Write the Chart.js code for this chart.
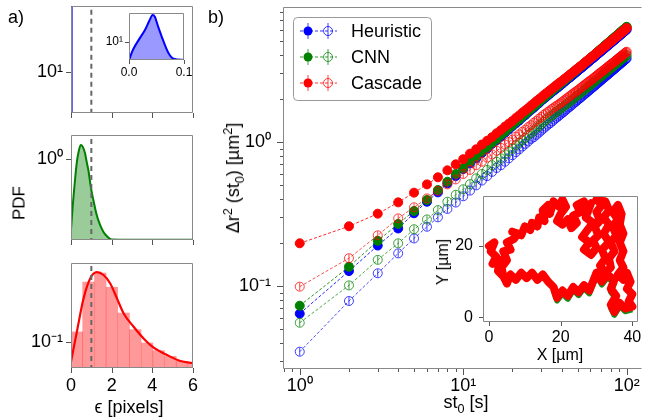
<!DOCTYPE html>
<html>
<head>
<meta charset="utf-8">
<script src="https://cdn.jsdelivr.net/npm/chart.js@4.4.1/dist/chart.umd.min.js"></script>
<style>
body{margin:0;background:#fff;width:647px;height:418px;overflow:hidden;position:relative;font-family:"Liberation Sans",Arial,sans-serif;}
canvas{position:absolute;left:0;top:0;}
.t{position:absolute;font-size:18px;color:#000;white-space:nowrap;line-height:1;transform:translate(-50%,-50%);}
.r{transform:translate(-50%,-50%) rotate(-90deg);}
sub,sup{font-size:70%;line-height:0;}
</style>
</head>
<body>
<canvas id="aTop" width="647" height="418"></canvas>
<canvas id="aInset" width="647" height="418"></canvas>
<canvas id="aMid" width="647" height="418"></canvas>
<canvas id="aBot" width="647" height="418"></canvas>
<canvas id="bMain" width="647" height="418"></canvas>
<canvas id="bInset" width="647" height="418"></canvas>

<div class="t" style="left:16px;top:17px">a)</div>
<div class="t" style="left:216px;top:17px">b)</div>
<div class="t r" style="left:19px;top:203px;font-size:17px">PDF</div>
<div class="t" style="left:129px;top:407px">ϵ [pixels]</div>
<div class="t r" style="left:233px;top:178px">Δr<sup>2</sup> (st<sub>0</sub>) [µm<sup>2</sup>]</div>
<div class="t" style="left:466px;top:402px">st<sub>0</sub> [s]</div>
<div class="t" style="left:560px;top:355px;font-size:16px">X [µm]</div>
<div class="t r" style="left:443px;top:262px;font-size:16px">Y [µm]</div>

<script>
// ---- panel a: localisation error PDFs ----
let spikeX=[0.03,0.03];
let spikeY=[1,1000];
let dashX=[1,1];
let dashY=[0.001,1000];

let insetEps=[0,0.007,0.02,0.029,0.037,0.043,0.047,0.053,0.063,0.072,0.081,0.1];
let insetPdf=[5.0,7.36,11.7,15.8,22.6,28.2,26.3,18.0,10.1,6.49,5.27,5.02];

let midEps=[0,0.082,0.197,0.28,0.36,0.476,0.575,0.69,0.77,0.854,0.985,1.10,1.264,1.43,1.59,1.757,2.0,3,4,5,6];
let midPdf=[0.195,0.334,0.617,0.906,1.14,1.38,1.33,1.14,0.94,0.776,0.509,0.389,0.275,0.219,0.1875,0.170,0.157,0.156,0.156,0.156,0.156];

let botEps=[0,0.29,0.62,0.95,1.27,1.6,1.93,2.26,2.59,3.08,3.57,4.07,4.72,5.38,6];
let botPdf=[0.0723,0.1186,0.205,0.285,0.315,0.301,0.262,0.205,0.160,0.1285,0.106,0.091,0.0807,0.0731,0.0705];
let histCenters=[0.29,0.86,1.44,2.01,2.59,3.16,3.74,4.31,4.89,5.46,6.04];
let histPdf=[0.118,0.268,0.311,0.246,0.161,0.1225,0.0984,0.0867,0.079,0.0728,0.0697];

// ---- panel b: MSD ----
let st0=[1,2,3,4,5,6,7,8,9,10,11,12,13,14,15,16,17,18,19,20,21,22,23,24,25,26,27,28,29,30,31,32,33,34,35,36,37,38,39,40,41,42,43,44,45,46,47,48,49,50,51,52,53,54,55,56,57,58,59,60,61,62,63,64,65,66,67,68,69,70,71,72,73,74,75,76,77,78,79,80,81,82,83,84,85,86,87,88,89,90,91,92,93,94,95,96,97,98,99,100];

let heurFilled=[0.0643,0.127,0.191,0.251,0.32,0.385,0.447,0.517,0.58,0.65,0.71,0.77,0.84,0.90,0.97,1.03,1.09,1.16,1.22,1.29,1.35,1.41,1.48,1.54,1.61,1.67,1.73,1.80,1.86,1.93,1.99,2.05,2.11,2.17,2.23,2.29,2.34,2.40,2.46,2.52,2.58,2.64,2.70,2.76,2.81,2.87,2.93,2.99,3.05,3.11,3.17,3.23,3.28,3.34,3.40,3.46,3.52,3.58,3.64,3.70,3.76,3.81,3.87,3.93,3.99,4.05,4.11,4.17,4.23,4.28,4.34,4.40,4.46,4.52,4.58,4.64,4.70,4.76,4.81,4.87,4.93,4.99,5.05,5.11,5.17,5.23,5.28,5.34,5.40,5.46,5.52,5.58,5.64,5.70,5.75,5.81,5.87,5.93,5.99,6.05];
let heurHollow=[0.035,0.0787,0.1226,0.1686,0.214,0.258,0.300,0.343,0.38,0.42,0.46,0.50,0.54,0.58,0.62,0.66,0.69,0.73,0.77,0.81,0.85,0.89,0.93,0.97,1.01,1.05,1.08,1.12,1.16,1.20,1.24,1.28,1.32,1.35,1.39,1.43,1.47,1.50,1.54,1.58,1.61,1.65,1.69,1.73,1.76,1.80,1.84,1.88,1.91,1.95,1.99,2.02,2.06,2.10,2.14,2.17,2.21,2.25,2.28,2.32,2.36,2.40,2.43,2.47,2.51,2.54,2.58,2.62,2.66,2.69,2.73,2.77,2.81,2.84,2.88,2.92,2.95,2.99,3.03,3.07,3.10,3.14,3.18,3.21,3.25,3.29,3.33,3.36,3.40,3.44,3.48,3.51,3.55,3.59,3.62,3.66,3.70,3.74,3.77,3.81];
let cnnFilled=[0.073,0.136,0.206,0.270,0.332,0.396,0.464,0.530,0.60,0.66,0.73,0.79,0.86,0.92,0.99,1.05,1.12,1.18,1.25,1.31,1.38,1.44,1.51,1.57,1.64,1.70,1.77,1.83,1.90,1.96,2.03,2.09,2.15,2.21,2.28,2.34,2.40,2.46,2.52,2.59,2.65,2.71,2.77,2.83,2.90,2.96,3.02,3.08,3.14,3.21,3.27,3.33,3.39,3.45,3.52,3.58,3.64,3.70,3.76,3.83,3.89,3.95,4.01,4.07,4.14,4.20,4.26,4.32,4.38,4.45,4.51,4.57,4.63,4.69,4.76,4.82,4.88,4.94,5.00,5.07,5.13,5.19,5.25,5.31,5.38,5.44,5.50,5.56,5.62,5.69,5.75,5.81,5.87,5.93,6.00,6.06,6.12,6.18,6.24,6.31];
let cnnHollow=[0.0556,0.101,0.152,0.198,0.248,0.290,0.337,0.385,0.43,0.47,0.51,0.56,0.60,0.64,0.69,0.73,0.77,0.82,0.86,0.90,0.95,0.99,1.03,1.07,1.12,1.16,1.20,1.25,1.29,1.33,1.38,1.42,1.46,1.50,1.53,1.57,1.61,1.65,1.69,1.73,1.76,1.80,1.84,1.88,1.92,1.95,1.99,2.03,2.07,2.11,2.15,2.18,2.22,2.26,2.30,2.34,2.38,2.41,2.45,2.49,2.53,2.57,2.60,2.64,2.68,2.72,2.76,2.80,2.83,2.87,2.91,2.95,2.99,3.02,3.06,3.10,3.14,3.18,3.22,3.25,3.29,3.33,3.37,3.41,3.44,3.48,3.52,3.56,3.60,3.64,3.67,3.71,3.75,3.79,3.83,3.86,3.90,3.94,3.98,4.02];
let cascadeFilled=[0.198,0.26,0.318,0.381,0.445,0.508,0.569,0.636,0.70,0.76,0.83,0.89,0.96,1.02,1.08,1.15,1.21,1.28,1.34,1.40,1.47,1.53,1.60,1.66,1.72,1.79,1.85,1.92,1.98,2.04,2.11,2.17,2.23,2.29,2.35,2.41,2.47,2.53,2.59,2.64,2.70,2.76,2.82,2.88,2.94,3.00,3.06,3.12,3.18,3.23,3.29,3.35,3.41,3.47,3.53,3.59,3.65,3.71,3.77,3.82,3.88,3.94,4.00,4.06,4.12,4.18,4.24,4.30,4.36,4.41,4.47,4.53,4.59,4.65,4.71,4.77,4.83,4.89,4.95,5.00,5.06,5.12,5.18,5.24,5.30,5.36,5.42,5.48,5.54,5.59,5.65,5.71,5.77,5.83,5.89,5.95,6.01,6.07,6.13,6.18];
let cascadeHollow=[0.099,0.156,0.225,0.295,0.352,0.406,0.458,0.508,0.55,0.60,0.64,0.69,0.73,0.78,0.82,0.87,0.91,0.96,1.00,1.04,1.09,1.13,1.18,1.22,1.27,1.31,1.36,1.40,1.45,1.49,1.54,1.58,1.62,1.66,1.70,1.74,1.78,1.81,1.85,1.89,1.93,1.97,2.01,2.05,2.09,2.13,2.17,2.21,2.24,2.28,2.32,2.36,2.40,2.44,2.48,2.52,2.56,2.60,2.64,2.67,2.71,2.75,2.79,2.83,2.87,2.91,2.95,2.99,3.03,3.07,3.10,3.14,3.18,3.22,3.26,3.30,3.34,3.38,3.42,3.46,3.50,3.53,3.57,3.61,3.65,3.69,3.73,3.77,3.81,3.85,3.89,3.93,3.96,4.00,4.04,4.08,4.12,4.16,4.20,4.24];

// trajectory in the inset (um)
let trajX=[0,1.5,0.5,2,1,3,2.5,4,3.5,5,4,6,5,7,8,6.5,9,10,11.5,12,13.5,14,15.5,15,16.5,17,18,19.5,20.5,21.5,20,19,20.5,22,23,24.5,23.5,25.5,24.5,26.5,27.5,28.5,27,29,27.5,26,28,26.5,
  28.5,30,29,30.5,29.5,31,30,31.5,30,32.5,33.5,32,33.5,32,33.5,31.5,32.5,31,32.5,34,33.5,35,34,35.5,34.5,36,34.5,36,37,36.5,37.5,36.5,37.5,36.5,37.5,36,37.5,
  38.5,39.5,38.5,40,39,40,38,36.5,35,34,35.5,34,35,33,31.5,30,29,28,26.5,25,23.5,22,20.5,19,18,16.5,15,13.5,12,10.5,9,7.5,6,5,3.5];
let trajY=[20,21,18.5,17,15,16,13,11.5,14,16,18.5,19,21,22,23.5,24,23,25.5,24.5,26.5,25.5,28,27,30,31.5,29,32.5,31,33,31,29,27,26,27.5,25,26.5,28.5,29.5,31.5,32.5,30.5,32,28,26.5,24.5,22.5,21,19,
  17.5,19.5,21.5,23,25.5,27,29.5,31.5,33,32.5,30,28,26,23.5,21,19,16.5,14.5,12.5,14,16.5,18.5,21,23,25.5,27.5,29.5,31.5,29,26,23.5,21,18.5,16,14,12,10.5,
  12.5,10,8,6.5,4.5,3,2.5,4,1.5,3.5,6,8,10.5,12,10,12.5,10,7.5,9,7,8.5,6,7.5,5.5,8.5,10,12,10.5,12.5,11,12.5,10.5,12,9.5,12.5];
let cnnTrajX=[40,38,36.5,35,34,35.5,34,35,33,31.5,30,29,28,26.5,25,23.5,22,20.5,19,18];
let cnnTrajY=[2.2,1.7,3.2,0.7,2.7,5.2,7.2,9.7,11.2,9.2,11.7,9.2,6.7,8.2,6.2,7.7,5.2,6.7,4.7,7.7];

let decadeLabels={0.1:'10⁻¹',1:'10⁰',10:'10¹',100:'10²'};

Chart.defaults.font.family='"Liberation Sans", Arial, sans-serif';
Chart.defaults.color='#000';
Chart.defaults.animation=false;
Chart.defaults.responsive=false;
Chart.defaults.events=[];
Chart.defaults.plugins.legend.display=false;
Chart.defaults.plugins.tooltip.enabled=false;

function pts(xs,ys){ return xs.map((x,i)=>({x:x,y:ys[i]})); }

// plot box in page pixels; yw/xh = room kept for tick labels
function box(l,t,r,b,yw,xh){
  return {left:l-yw,top:t,right:647-r,bottom:418-b-xh};
}

function axis(type,min,max,tickVals,labels,pad,size,show,room){
  return {
    type:type, min:min, max:max, bounds:'data',
    afterBuildTicks:s=>{ s.ticks=tickVals.map(v=>({value:v})); },
    afterFit:s=>{
      if(s.isHorizontal()) s.height=room; else s.width=room;
      s.paddingLeft=s.paddingRight=s.paddingTop=s.paddingBottom=0;
    },
    grid:{display:false,drawTicks:false},
    border:{display:false},
    ticks:{display:show,autoSkip:false,maxRotation:0,minRotation:0,padding:pad,
      font:{size:size},color:'#000',callback:v=>(labels[v]!==undefined?labels[v]:'')}
  };
}

function isDecade(v){ let l=Math.log10(v); return Math.abs(l-Math.round(l))<1e-6; }

let deco={
  id:'deco',
  beforeDatasetsDraw(chart,args,o){
    if(!o.bg) return;
    let a=chart.chartArea, ctx=chart.ctx;
    ctx.save(); ctx.fillStyle=o.bg; ctx.fillRect(a.left,a.top,a.right-a.left,a.bottom-a.top); ctx.restore();
  },
  afterDatasetDraw(chart,args,o){
    if(!o.errbars) return;
    let ctx=chart.ctx, ds=chart.data.datasets[args.index];
    ctx.save(); ctx.strokeStyle=ds.pointBorderColor; ctx.lineWidth=1;
    args.meta.data.forEach(p=>{
      ctx.beginPath(); ctx.moveTo(p.x,p.y-4); ctx.lineTo(p.x,p.y+4); ctx.stroke();
    });
    ctx.restore();
  },
  afterDraw(chart,args,o){
    let ctx=chart.ctx, a=chart.chartArea;
    let L=a.left+0.5, T=a.top+0.5, R=a.right-0.5, B=a.bottom-0.5;
    ctx.save();
    ctx.lineWidth=1; ctx.strokeStyle=o.frame||'#888';
    ctx.beginPath();
    if(o.openRight){ ctx.moveTo(a.right,T); ctx.lineTo(L,T); ctx.lineTo(L,B); ctx.lineTo(a.right,B); }
    else ctx.rect(L,T,R-L,B-T);
    ctx.stroke();
    ctx.strokeStyle=o.tick||'#555';
    ['x','y'].forEach(id=>{
      let s=chart.scales[id];
      s.ticks.forEach(t=>{
        let len=(s.type==='logarithmic'&&!isDecade(t.value))?o.len/2:o.len;
        let p=Math.round(s.getPixelForValue(t.value))+0.5;
        ctx.beginPath();
        if(id==='x'){ ctx.moveTo(p,a.bottom); ctx.lineTo(p,a.bottom+len); }
        else { ctx.moveTo(a.left,p); ctx.lineTo(a.left-len,p); }
        ctx.stroke();
      });
    });
    if(o.legend) drawLegend(chart);
    ctx.restore();
  }
};
Chart.register(deco);

function drawLegend(chart){
  let ctx=chart.ctx;
  ctx.save();
  ctx.beginPath(); ctx.roundRect(293.5,17.5,138,83,4);
  ctx.fillStyle='rgba(255,255,255,0.85)'; ctx.fill();
  ctx.strokeStyle='#999'; ctx.lineWidth=1; ctx.stroke();
  let rows=[['Heuristic','0,0,255'],['CNN','0,128,0'],['Cascade','255,0,0']];
  rows.forEach((r,i)=>{
    let y=31+26*i, c=r[1];
    ctx.setLineDash([3,2]); ctx.strokeStyle='rgba('+c+',0.8)'; ctx.lineWidth=1;
    ctx.beginPath(); ctx.moveTo(300,y); ctx.lineTo(337,y); ctx.stroke();
    ctx.setLineDash([]);
    ctx.strokeStyle='rgba('+c+',0.75)';
    [308,328].forEach(x=>{ ctx.beginPath(); ctx.moveTo(x,y-8); ctx.lineTo(x,y+8); ctx.stroke(); });
    ctx.fillStyle='rgb('+c+')';
    ctx.beginPath(); ctx.arc(308,y,4.5,0,Math.PI*2); ctx.fill();
    ctx.beginPath(); ctx.arc(328,y,4.5,0,Math.PI*2); ctx.stroke();
    ctx.fillStyle='#000'; ctx.font='18px "Liberation Sans", Arial, sans-serif';
    ctx.textBaseline='middle'; ctx.fillText(r[0],351,y+1);
  });
  ctx.restore();
}

let dashed={type:'line',data:pts(dashX,dashY),borderColor:'#666',borderWidth:2,borderDash:[5,4],pointRadius:0};
let aTicks=[0,2,4,6];
let aLabels={0:'0',2:'2',4:'4',6:'6'};

new Chart(document.getElementById('aTop'),{
  type:'scatter',
  data:{datasets:[
    Object.assign({},dashed,{data:pts(dashX,dashY)}),
    {type:'line',data:pts(spikeX,spikeY),borderColor:'#0000ff',borderWidth:2,pointRadius:0}
  ]},
  options:{layout:{padding:box(71,6,193,113,60,20)},
    scales:{x:axis('linear',0,6,aTicks,{},0,18,false,20),
            y:axis('logarithmic',2.05,124.5,[10],decadeLabels,8,18,true,60)},
    plugins:{deco:{len:5}}}
});

new Chart(document.getElementById('aInset'),{
  type:'scatter',
  data:{datasets:[
    {type:'line',data:pts(insetEps,insetPdf),borderColor:'#0000ff',borderWidth:2,pointRadius:0,
     cubicInterpolationMode:'monotone',fill:'start',backgroundColor:'rgba(0,0,255,0.4)'}
  ]},
  options:{layout:{padding:box(129,13,184,60,40,20)},
    scales:{x:axis('linear',0,0.1,[0,0.1],{0:'0.0',0.1:'0.1'},5,12,true,20),
            y:axis('logarithmic',5.01,30.4,[10],decadeLabels,6,12,true,40)},
    plugins:{deco:{len:4,bg:'#fff'}}}
});

new Chart(document.getElementById('aMid'),{
  type:'scatter',
  data:{datasets:[
    Object.assign({},dashed,{data:pts(dashX,dashY)}),
    {type:'line',data:pts(midEps,midPdf),borderColor:'#008000',borderWidth:2,pointRadius:0,
     cubicInterpolationMode:'monotone',fill:'start',backgroundColor:'rgba(0,128,0,0.4)'}
  ]},
  options:{layout:{padding:box(71,135,193,240,60,20)},
    scales:{x:axis('linear',0,6,aTicks,{},0,18,false,20),
            y:axis('logarithmic',0.155,1.738,[1],decadeLabels,8,18,true,60)},
    plugins:{deco:{len:5}}}
});

new Chart(document.getElementById('aBot'),{
  type:'bar',
  data:{datasets:[
    Object.assign({},dashed,{data:pts(dashX,dashY),order:0}),
    {type:'line',data:pts(botEps,botPdf),borderColor:'#ff0000',borderWidth:2.2,pointRadius:0,
     cubicInterpolationMode:'monotone',order:1},
    {type:'bar',data:pts(histCenters,histPdf),backgroundColor:'rgba(255,0,0,0.4)',borderWidth:0,
     barPercentage:1,categoryPercentage:1,grouped:false,order:2}
  ]},
  options:{layout:{padding:box(71,263,193,368,60,30)},
    scales:{x:Object.assign(axis('linear',0,6,aTicks,aLabels,7,18,true,30),{offset:false}),
            y:axis('logarithmic',0.0652,0.3666,[0.1],decadeLabels,8,18,true,60)},
    plugins:{deco:{len:5}}}
});

function msd(vals,c,filled,order){
  return {data:pts(st0,vals),showLine:true,borderWidth:1,borderDash:[3,2],
    borderColor:'rgba('+c+','+(filled?0.85:0.7)+')',
    pointRadius:4.5,pointBorderWidth:1,
    pointBackgroundColor:filled?'rgb('+c+')':'rgba(0,0,0,0)',
    pointBorderColor:'rgba('+c+','+(filled?1:0.75)+')',order:order};
}

new Chart(document.getElementById('bMain'),{
  type:'scatter',
  data:{datasets:[
    msd(cascadeFilled,'255,0,0',true,0),
    msd(cascadeHollow,'255,0,0',false,1),
    msd(cnnFilled,'0,128,0',true,2),
    msd(cnnHollow,'0,128,0',false,3),
    msd(heurFilled,'0,0,255',true,4),
    msd(heurHollow,'0,0,255',false,5)
  ]},
  options:{layout:{padding:box(283,7,647,369,70,30)},
    scales:{
      x:axis('logarithmic',0.79,123.1,[0.8,0.9,1,2,3,4,5,6,7,8,9,10,20,30,40,50,60,70,80,90,100],decadeLabels,6,18,true,30),
      y:axis('logarithmic',0.02654,8.66,[0.03,0.04,0.05,0.06,0.07,0.08,0.09,0.1,0.2,0.3,0.4,0.5,0.6,0.7,0.8,0.9,1,2,3,4,5,6,7,8],decadeLabels,12,18,true,70)},
    plugins:{deco:{len:6,errbars:true,legend:true,openRight:true}}}
});

new Chart(document.getElementById('bInset'),{
  type:'scatter',
  data:{datasets:[
    {data:pts(trajX,trajY),showLine:true,borderColor:'#ff0000',borderWidth:8,borderJoinStyle:'round',
     borderCapStyle:'round',pointRadius:4,pointStyle:'rectRot',pointBackgroundColor:'#ff0000',pointBorderWidth:0,order:0},
    {data:pts(cnnTrajX,cnnTrajY),showLine:true,borderColor:'#1a8a1a',borderWidth:6,borderJoinStyle:'round',
     pointRadius:0,order:1}
  ]},
  options:{layout:{padding:box(483,196,638,322,40,24)},
    scales:{x:axis('linear',-1.675,41.59,[0,20,40],{0:'0',20:'20',40:'40'},6,16,true,24),
            y:axis('linear',-1.32,34.02,[0,20],{0:'0',20:'20'},10,16,true,40)},
    plugins:{deco:{len:4,bg:'#fff'}}}
});
</script>
</body>
</html>
